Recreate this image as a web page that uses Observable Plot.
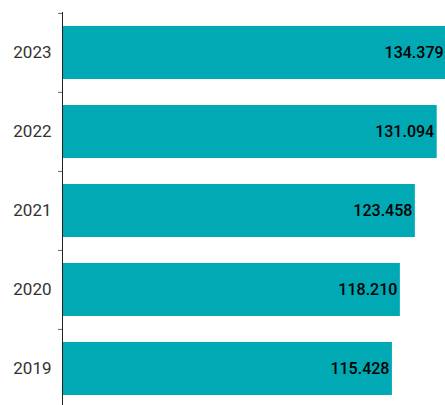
<!DOCTYPE html>
<html><head><meta charset="utf-8">
<script src="https://cdn.jsdelivr.net/npm/d3@7"></script>
<script src="https://cdn.jsdelivr.net/npm/@observablehq/plot@0.6"></script>
<style>body{margin:0;background:#fff}</style>
</head><body><div id="chart"></div>
<script>
const years = ["2023", "2022", "2021", "2020", "2019"];
const values = [134379, 131094, 123458, 118210, 115428];
const data = years.map((y, i) => ({year: y, value: values[i]}));
const fmt = d3.formatLocale({decimal: ",", thousands: ".", grouping: [3], currency: ["", ""]}).format(",d");
const W = 445, H = 405, mt = 12, mb = -3;
const step = (H - mt - mb) / years.length;
const xMax = 134000;
const pxPerUnit = (W - 62) / xMax;
const chart = Plot.plot({
  width: W, height: H,
  marginLeft: 62, marginRight: 0, marginTop: mt, marginBottom: mb,
  style: {fontFamily: "Roboto, 'Open Sans', sans-serif", background: "#fff"},
  x: {domain: [0, xMax], axis: null},
  y: {domain: years, paddingInner: 0.33, paddingOuter: 0.165},
  marks: [
    Plot.barX(data, {y: "year", x: "value", fill: "#00A9B4"}),
    Plot.ruleY(years, {y: d => d, x1: -4 / pxPerUnit, x2: 0, dy: -step / 2, stroke: "#666"}),
    Plot.ruleX([0], {stroke: "#222"}),
    Plot.axisY({tickSize: 0, tickPadding: 11, fontSize: 17, color: "#333", label: null}),
    Plot.text(data, {y: "year", x: "value", text: d => fmt(d.value), textAnchor: "end", dx: -3, fontSize: 16, fontWeight: 500, fill: "#000"})
  ]
});
document.getElementById("chart").append(chart);
</script>
</body></html>
